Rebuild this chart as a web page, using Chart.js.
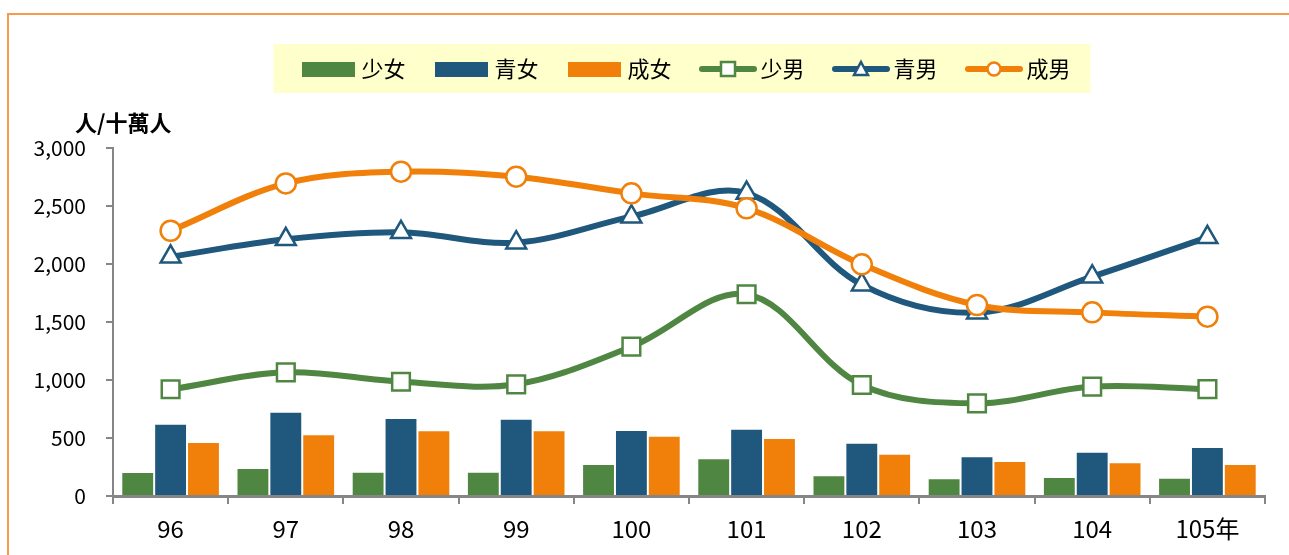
<!DOCTYPE html>
<html>
<head>
<meta charset="utf-8">
<title>index</title>
<script src="https://cdn.jsdelivr.net/npm/chart.js@4.4.0/dist/chart.umd.min.js"></script>
<style>
  body { margin: 0; background: #fff; overflow: hidden; }
  #wrap { position: relative; width: 1289px; height: 555px; }
  #frame { position: absolute; left: 7px; top: 13px; width: 1400px; height: 700px;
           border-left: 2px solid #F79A4E; border-top: 2px solid #F79A4E; }
  #myChart { position: absolute; left: 0; top: 0; }
</style>
</head>
<body>
<div id="wrap">
  <div id="frame"></div>
  <canvas id="myChart" width="1289" height="555"></canvas>
</div>
<script>
// donnees du graphe
const years = ["96", "97", "98", "99", "100", "101", "102", "103", "104", "105年"];

const shaoNv = [207, 241, 210, 210, 276, 325, 178, 152, 164, 158];
const qingNv = [623, 727, 672, 666, 569, 580, 459, 342, 382, 422];
const chengNv = [466, 532, 566, 566, 520, 500, 365, 302, 290, 276];

const shaoNan = [920, 1066, 985, 963, 1287, 1739, 957, 799, 943, 922];
const qingNan = [2062, 2213, 2273, 2184, 2408, 2612, 1822, 1580, 1891, 2230];
const chengNan = [2287, 2695, 2796, 2753, 2609, 2480, 1997, 1647, 1583, 1546];

const yTicks = [0, 500, 1000, 1500, 2000, 2500, 3000];
const unitLabel = "人/十萬人";

const GREEN = "#4F8642";
const BLUE = "#1F587C";
const ORANGE = "#F0800A";
const AXIS = "#868686";
const FONT = "'Noto Sans CJK TC', 'Noto Sans', sans-serif";

// petites icones pour la legende
function barIcon(color) {
  const c = document.createElement("canvas");
  c.width = 53; c.height = 15;
  const g = c.getContext("2d");
  g.fillStyle = color;
  g.fillRect(0, 0, 53, 15);
  return c;
}

function lineIcon(color, shape) {
  const c = document.createElement("canvas");
  c.width = 58; c.height = 20;
  const g = c.getContext("2d");
  g.strokeStyle = color;
  g.lineWidth = 6;
  g.lineCap = "round";
  g.beginPath();
  g.moveTo(3, 10);
  g.lineTo(55, 10);
  g.stroke();
  g.fillStyle = "#fff";
  g.lineWidth = 2.5;
  g.beginPath();
  if (shape === "rect") {
    g.rect(22, 3, 14, 14);
  } else if (shape === "triangle") {
    g.moveTo(29, 3);
    g.lineTo(36, 16);
    g.lineTo(22, 16);
    g.closePath();
  } else {
    g.arc(29, 10, 6.5, 0, Math.PI * 2);
  }
  g.fill();
  g.stroke();
  return c;
}

const icons = [
  barIcon(GREEN), barIcon(BLUE), barIcon(ORANGE),
  lineIcon(GREEN, "rect"), lineIcon(BLUE, "triangle"), lineIcon(ORANGE, "circle"),
];

// fond jaune derriere la legende
const legendBg = {
  id: "legendBg",
  beforeDraw(chart) {
    const boxes = chart.legend.legendHitBoxes;
    if (!boxes || !boxes.length) return;
    const left = Math.min(...boxes.map((b) => b.left)) - 34;
    const right = Math.max(...boxes.map((b) => b.left + b.width)) + 20;
    const top = boxes[0].top - 14;
    const ctx = chart.ctx;
    ctx.save();
    ctx.fillStyle = "#FFFFCC";
    ctx.fillRect(left, top, right - left, 49);
    ctx.restore();
  },
};

// titre de l'unite au-dessus de l'axe y
const unitTitle = {
  id: "unitTitle",
  afterDraw(chart) {
    const ctx = chart.ctx;
    ctx.save();
    ctx.font = "bold 22px " + FONT;
    ctx.fillStyle = "#000";
    ctx.textBaseline = "middle";
    ctx.textAlign = "left";
    ctx.fillText(unitLabel, chart.chartArea.left - 38, chart.chartArea.top - 25);
    ctx.restore();
  },
};

function lineSet(label, values, color, shape, radius, order) {
  return {
    type: "line",
    label: label,
    data: values,
    borderColor: color,
    borderWidth: 6,
    tension: 0.35,
    pointStyle: shape,
    pointRadius: radius,
    pointHoverRadius: radius,
    pointBackgroundColor: "#fff",
    pointBorderColor: color,
    pointBorderWidth: 2.5,
    order: order,
  };
}

function barSet(label, values, color) {
  return {
    type: "bar",
    label: label,
    data: values,
    backgroundColor: color,
    borderColor: "rgba(255,255,255,0.6)",
    borderWidth: 1,
    categoryPercentage: 0.856,
    barPercentage: 1,
    order: 10,
  };
}

const data = {
  labels: years,
  datasets: [
    barSet("少女", shaoNv, GREEN),
    barSet("青女", qingNv, BLUE),
    barSet("成女", chengNv, ORANGE),
    lineSet("少男", shaoNan, GREEN, "rect", 12.5, 3),
    lineSet("青男", qingNan, BLUE, "triangle", 11.5, 2),
    lineSet("成男", chengNan, ORANGE, "circle", 10, 1),
  ],
};

const config = {
  type: "bar",
  data: data,
  plugins: [legendBg, unitTitle],
  options: {
    responsive: false,
    animation: false,
    layout: {
      padding: { left: 0, right: 24, top: 23, bottom: 0 },
    },
    plugins: {
      tooltip: { enabled: false },
      legend: {
        position: "top",
        fullSize: false,
        labels: {
          usePointStyle: true,
          pointStyleWidth: 43,
          padding: 35,
          color: "#000",
          font: { family: FONT, size: 22 },
          sort: (a, b) => a.datasetIndex - b.datasetIndex,
          generateLabels: (chart) => {
            const items = Chart.defaults.plugins.legend.labels.generateLabels(chart);
            items.forEach((it) => {
              it.pointStyle = icons[it.datasetIndex];
            });
            return items;
          },
        },
      },
      // espace reserve pour le titre de l'unite
      subtitle: {
        display: true,
        text: "",
        position: "top",
        fullSize: true,
        weight: 500,
        font: { family: FONT, size: 20 },
        padding: { top: 21, bottom: 13 },
      },
    },
    scales: {
      x: {
        grid: {
          offset: true,
          drawOnChartArea: false,
          tickLength: 8,
          color: AXIS,
          lineWidth: 2,
        },
        border: { color: AXIS, width: 3 },
        ticks: {
          color: "#000",
          padding: 10,
          font: { family: FONT, size: 24 },
        },
        afterFit: (s) => { s.height = 59; },
      },
      y: {
        min: 0,
        max: 3000,
        afterBuildTicks: (s) => { s.ticks = yTicks.map((v) => ({ value: v })); },
        grid: {
          drawOnChartArea: false,
          tickLength: 7,
          color: AXIS,
          lineWidth: 2,
        },
        border: { color: AXIS, width: 2 },
        ticks: {
          color: "#000",
          padding: 20,
          font: { family: FONT, size: 21 },
          callback: (v) => v.toLocaleString("en-US"),
        },
        afterFit: (s) => { s.width = 113; },
      },
    },
  },
};

const context = document.getElementById("myChart").getContext("2d");
const chart = new Chart(context, config);
</script>
</body>
</html>
